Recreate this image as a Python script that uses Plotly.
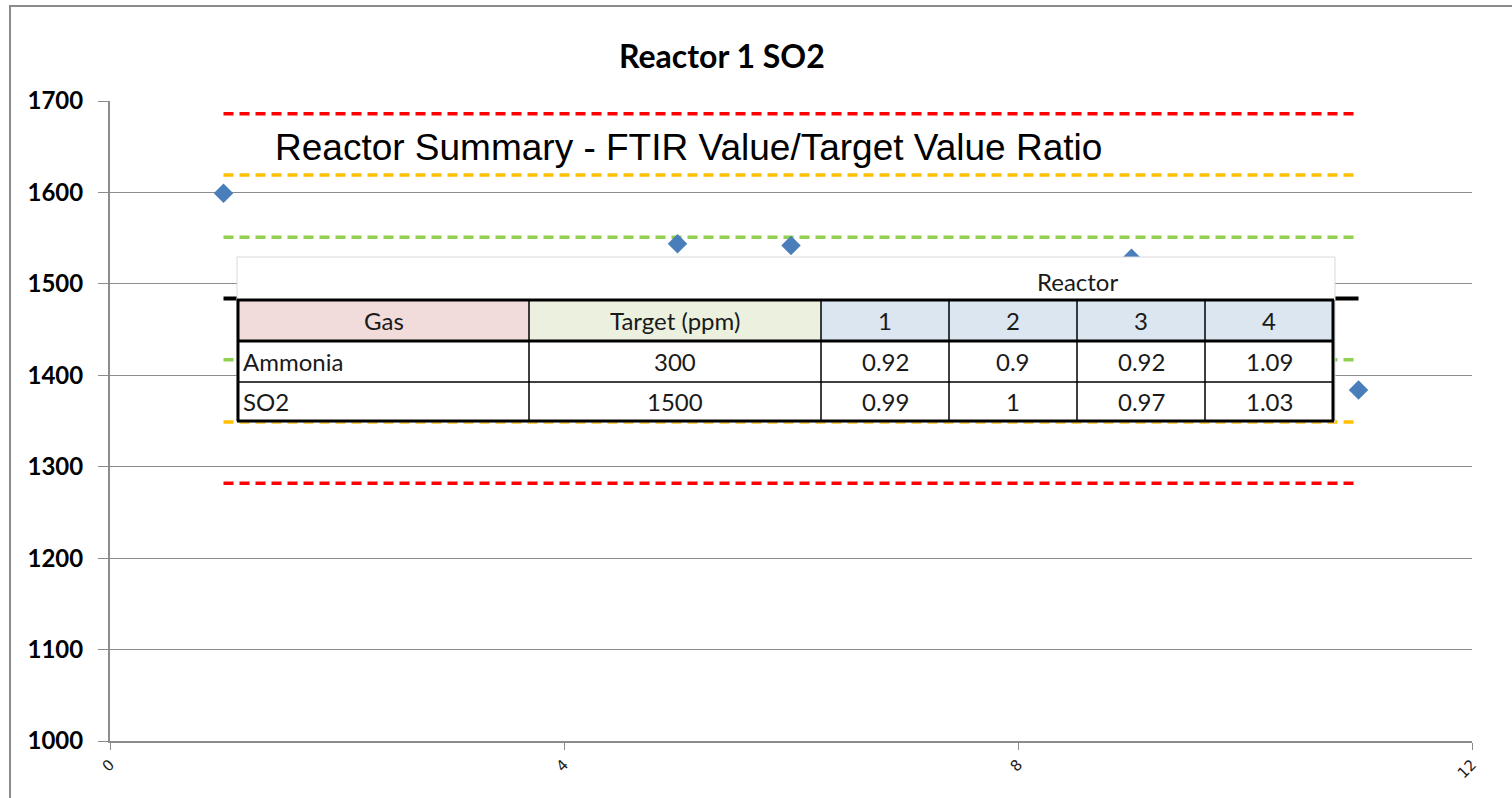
import plotly.graph_objects as go

# ---- data ----
sample_x = [1, 5, 6, 9, 11]
so2_ppm = [1599, 1544, 1542, 1528, 1384]

limit_x = [1, 11]
mean_level = 1484
green_limits = [1551, 1417]
orange_limits = [1619, 1349]
red_limits = [1686, 1282]

x_ticks = [0, 4, 8, 12]
y_ticks = [1000, 1100, 1200, 1300, 1400, 1500, 1600, 1700]

table_title = "Reactor Summary - FTIR Value/Target Value Ratio"
table_header = ["Gas", "Target (ppm)", "1", "2", "3", "4"]
gases = ["Ammonia", "SO2"]
targets = ["300", "1500"]
ratios = [["0.92", "0.9", "0.92", "1.09"],
          ["0.99", "1", "0.97", "1.03"]]

# ---- layout geometry ----
W, H = 1512, 798
ML, MR, MT, MB = 110, 40, 101, 57
PW, PH = W - ML - MR, H - MT - MB


def px(x):
    return (x - ML) / PW


def py(y):
    return (H - MB - y) / PH


fig = go.Figure()

dash_style = "10px,6px"
for vals, col in [(red_limits, "#FF0000"), (orange_limits, "#FFC000"), (green_limits, "#92D050")]:
    for v in vals:
        fig.add_trace(go.Scatter(x=limit_x, y=[v, v], mode="lines",
                                 line=dict(color=col, width=3.5, dash=dash_style),
                                 hoverinfo="skip", showlegend=False))
fig.add_trace(go.Scatter(x=limit_x, y=[mean_level, mean_level], mode="lines",
                         line=dict(color="#000000", width=4),
                         hoverinfo="skip", showlegend=False))
fig.add_trace(go.Scatter(x=sample_x, y=so2_ppm, mode="markers",
                         marker=dict(symbol="diamond", size=15, color="#4A7EBB"),
                         showlegend=False))

shapes = []
annotations = []

# chart border
shapes.append(dict(type="rect", xref="paper", yref="paper", x0=px(10), x1=px(1530),
                   y0=py(820), y1=py(6), line=dict(color="#8C8C8C", width=2),
                   fillcolor="rgba(0,0,0,0)", layer="below"))

# table background
TL, TR, TT, TB = 237, 1335, 257, 422
shapes.append(dict(type="rect", xref="paper", yref="paper", x0=px(TL), x1=px(TR),
                   y0=py(TB), y1=py(TT), line=dict(color="#D9D9D9", width=1),
                   fillcolor="white", layer="above"))

col_edges = [238, 529, 821, 949, 1077, 1205, 1333]
row_edges = [300, 341, 382, 421]
header_fill = ["#F2DCDB", "#EBF1DE", "#DCE6F1", "#DCE6F1", "#DCE6F1", "#DCE6F1"]
for i, f in enumerate(header_fill):
    shapes.append(dict(type="rect", xref="paper", yref="paper",
                       x0=px(col_edges[i]), x1=px(col_edges[i + 1]),
                       y0=py(row_edges[1]), y1=py(row_edges[0]),
                       line=dict(width=0), fillcolor=f, layer="above"))

# thin inner lines
for xe in col_edges[1:-1]:
    shapes.append(dict(type="line", xref="paper", yref="paper", x0=px(xe), x1=px(xe),
                       y0=py(row_edges[0]), y1=py(row_edges[-1]),
                       line=dict(color="black", width=1.5), layer="above"))
shapes.append(dict(type="line", xref="paper", yref="paper", x0=px(col_edges[0]), x1=px(col_edges[-1]),
                   y0=py(row_edges[2]), y1=py(row_edges[2]),
                   line=dict(color="black", width=1.5), layer="above"))
# thick borders
for ye in [row_edges[0], row_edges[1], row_edges[3]]:
    shapes.append(dict(type="line", xref="paper", yref="paper", x0=px(col_edges[0] - 1), x1=px(col_edges[-1] + 1),
                       y0=py(ye), y1=py(ye), line=dict(color="black", width=3), layer="above"))
for xe in [col_edges[0], col_edges[-1]]:
    shapes.append(dict(type="line", xref="paper", yref="paper", x0=px(xe), x1=px(xe),
                       y0=py(row_edges[0]), y1=py(row_edges[-1]),
                       line=dict(color="black", width=3), layer="above"))

tfont = dict(family="Lato, Calibri, sans-serif", size=24, color="#1a1a1a")


def centre(i):
    return px((col_edges[i] + col_edges[i + 1]) / 2)


annotations.append(dict(text="Reactor", xref="paper", yref="paper", x=px(1077), y=py(281),
                        showarrow=False, font=tfont, xanchor="center", yanchor="middle"))
for i, h in enumerate(table_header):
    annotations.append(dict(text=h, xref="paper", yref="paper", x=centre(i),
                            y=py((row_edges[0] + row_edges[1]) / 2),
                            showarrow=False, font=tfont, xanchor="center", yanchor="middle"))
for r in range(len(gases)):
    yc = py((row_edges[r + 1] + row_edges[r + 2]) / 2)
    annotations.append(dict(text=gases[r], xref="paper", yref="paper", x=px(241), y=yc,
                            showarrow=False, font=tfont, xanchor="left", yanchor="middle"))
    annotations.append(dict(text=targets[r], xref="paper", yref="paper", x=centre(1), y=yc,
                            showarrow=False, font=tfont, xanchor="center", yanchor="middle"))
    for c in range(4):
        annotations.append(dict(text=ratios[r][c], xref="paper", yref="paper", x=centre(c + 2), y=yc,
                                showarrow=False, font=tfont, xanchor="center", yanchor="middle"))

annotations.append(dict(text=table_title, xref="paper", yref="paper", x=px(273), y=py(147),
                        showarrow=False, xanchor="left", yanchor="middle",
                        font=dict(family="Liberation Sans, Arial, sans-serif", size=37, color="#000000")))

annotations.append(dict(text="Reactor 1 SO2", xref="paper", yref="paper", x=px(722), y=py(55),
                        showarrow=False, xanchor="center", yanchor="middle",
                        font=dict(family="Lato, Calibri, sans-serif", size=32, color="#000000",
                                  weight="bold")))

fig.update_layout(
    width=W, height=H,
    margin=dict(l=ML, r=MR, t=MT, b=MB),
    paper_bgcolor="white", plot_bgcolor="white",
    shapes=shapes, annotations=annotations,
    showlegend=False,
    xaxis=dict(range=[0, 12], tickvals=x_ticks, ticktext=[str(v) for v in x_ticks],
               showgrid=False, zeroline=False, showline=True, linecolor="#8C8C8C", linewidth=2,
               ticks="outside", ticklen=7, tickcolor="#8C8C8C", tickangle=-45,
               tickfont=dict(family="DejaVu Sans, sans-serif", size=15, color="#222222")),
    yaxis=dict(range=[1000, 1700], tickvals=y_ticks, showgrid=True, gridcolor="#8C8C8C", gridwidth=1,
               zeroline=False, showline=True, linecolor="#8C8C8C", linewidth=2,
               ticks="outside", ticklen=10, tickcolor="#8C8C8C", ticklabelstandoff=10,
               tickfont=dict(family="Lato, Calibri, sans-serif", size=24, color="#000000",
                             weight="bold")),
)

fig.write_html("out.html", config={"displayModeBar": False},
               post_script="document.body.style.margin='0';")
